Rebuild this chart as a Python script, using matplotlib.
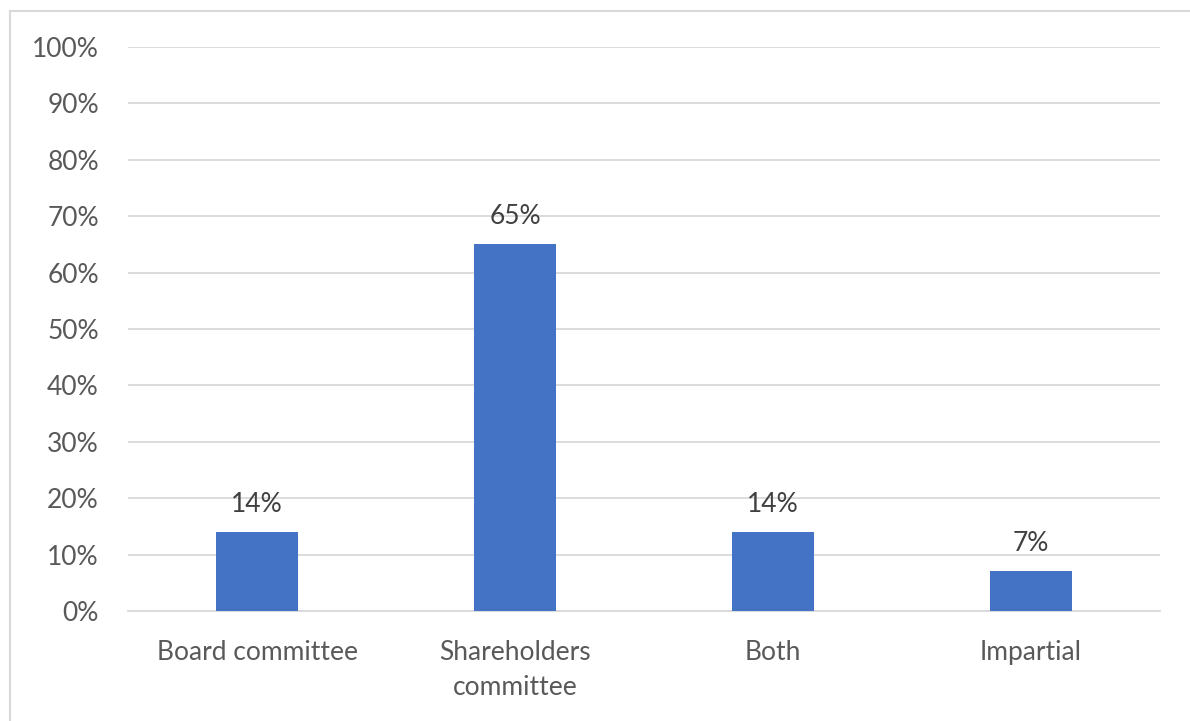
import matplotlib
matplotlib.use("Agg")
import matplotlib.pyplot as plt
from matplotlib.lines import Line2D
from matplotlib.ticker import PercentFormatter

categories = ["Board committee", "Shareholders\ncommittee", "Both", "Impartial"]
shares = [0.14, 0.65, 0.14, 0.07]
value_labels = ["14%", "65%", "14%", "7%"]

text_color = "#595959"
plt.rcParams["font.family"] = ["Lato", "DejaVu Sans"]

fig = plt.figure(figsize=(11.9, 7.21), dpi=100)
ax = fig.add_axes([0.1076, 0.1526, 0.8672, 0.7822])

x = range(len(categories))
bars = ax.bar(x, shares, width=0.317, color="#4472C4", zorder=3)

for bar, lab in zip(bars, value_labels):
    ax.annotate(lab, (bar.get_x() + bar.get_width() / 2, bar.get_height()),
                xytext=(0, 11), textcoords="offset points", ha="center", va="bottom",
                fontsize=19, color="#404040")

ax.set_ylim(0, 1)
ax.set_xlim(-0.5, len(categories) - 0.5)
ax.set_yticks([i / 10 for i in range(11)])
ax.yaxis.set_major_formatter(PercentFormatter(1.0, decimals=0))
ax.set_xticks(list(x))
ax.set_xticklabels(categories, linespacing=1.5)
ax.tick_params(axis="both", length=0, labelsize=19, labelcolor=text_color)
ax.tick_params(axis="x", pad=21)
ax.tick_params(axis="y", pad=21)
ax.grid(axis="y", color="#D9D9D9", linewidth=1.3, zorder=0)
for side in ["top", "right", "left"]:
    ax.spines[side].set_visible(False)
ax.spines["bottom"].set_color("#D9D9D9")
ax.spines["bottom"].set_linewidth(1.3)

# light outer frame of the chart area (left and top edges visible)
fig.add_artist(Line2D([0.0088, 0.0088], [0.0, 0.985], transform=fig.transFigure, color="#D9D9D9", lw=1.5))
fig.add_artist(Line2D([0.0088, 1.0], [0.985, 0.985], transform=fig.transFigure, color="#D9D9D9", lw=1.5))

fig.savefig("out.png", dpi=100, facecolor="white")
